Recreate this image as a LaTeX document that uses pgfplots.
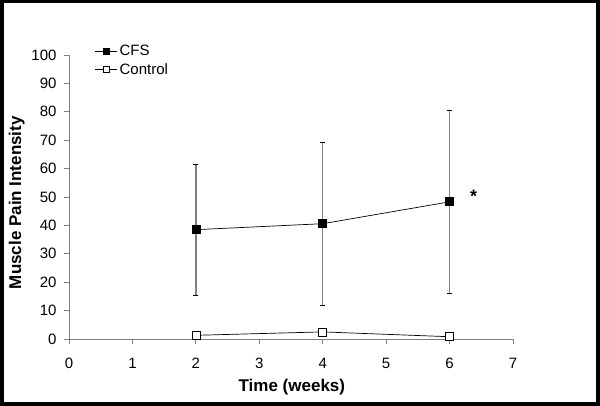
\documentclass[border=0pt]{standalone}
\usepackage{pgfplots}
\pgfplotsset{compat=1.18}
\usepackage{fontspec}
\setmainfont{Liberation Sans}
\begin{document}
\begin{tikzpicture}
\useasboundingbox (0,0) rectangle (600bp,406bp);
\fill[white] (0,0) rectangle (600bp,406bp);
\begin{axis}[
  at={(69bp,67bp)}, anchor=south west,
  scale only axis, width=444bp, height=284bp,
  xmin=0, xmax=7, ymin=0, ymax=100,
  axis x line*=bottom, axis y line*=left,
  axis line style={-, draw=gray, line width=1bp},
  xtick={0,...,7}, ytick={0,10,...,100},
  tick align=outside, major tick length=5bp,
  tick style={gray, line width=0.8bp},
  ticklabel style={font=\fontsize{15bp}{18bp}\selectfont},
  /pgf/number format/assume math mode=true,
  xticklabel style={yshift=-10.5bp},
  yticklabel style={xshift=-4bp},
  xlabel={Time (weeks)}, ylabel={Muscle Pain Intensity},
  label style={font=\fontsize{17bp}{20bp}\selectfont\bfseries},
  xlabel style={at={(axis description cs:0.502,-0.168)}, anchor=center},
  ylabel style={at={(axis description cs:-0.118,0.48)}, anchor=center},
  legend style={draw=none, fill=none, at={(0.058,1.042)}, anchor=north west,
    font=\fontsize{15bp}{18bp}\selectfont, row sep=2bp, inner sep=0pt},
  legend cell align=left,
  legend image code/.code={\draw[mark repeat=2,mark phase=2,#1,mark size=3.2bp] plot coordinates {(0bp,0bp)(11bp,0bp)(22bp,0bp)};},
  clip=false,
]
\addplot[black, line width=0.7bp, mark=square*, mark size=4bp, mark options={solid, fill=black},
  error bars/.cd, y dir=both, y explicit,
  error bar style={gray, line width=1.3bp},
  error mark options={rotate=90, mark size=2.5bp, black, line width=0.8bp}]
  coordinates {
  (2,38.5) +- (0,23.0)
  (4,40.6) +- (0,28.7)
  (6,48.3) +- (0,32.2)
  };
\addlegendentry{CFS}
\addplot[black, line width=0.7bp, mark=square*, mark size=4bp, mark options={solid, fill=white},
  error bars/.cd, y dir=both, y explicit,
  error bar style={gray, line width=1bp},
  error mark options={rotate=90, mark size=2bp, black, line width=0.8bp}]
  coordinates {
  (2,1.3) +- (0,0.6)
  (4,2.5) +- (0,0.5)
  (6,0.8) +- (0,1.2)
  };
\addlegendentry{Control}
\node[font=\fontsize{18bp}{20bp}\selectfont\bfseries] at (axis cs:6.38,50.4) {*};
\end{axis}
\draw[line width=3.5bp] (1.75bp,2bp) rectangle (598bp,404.25bp);
\end{tikzpicture}
\end{document}
